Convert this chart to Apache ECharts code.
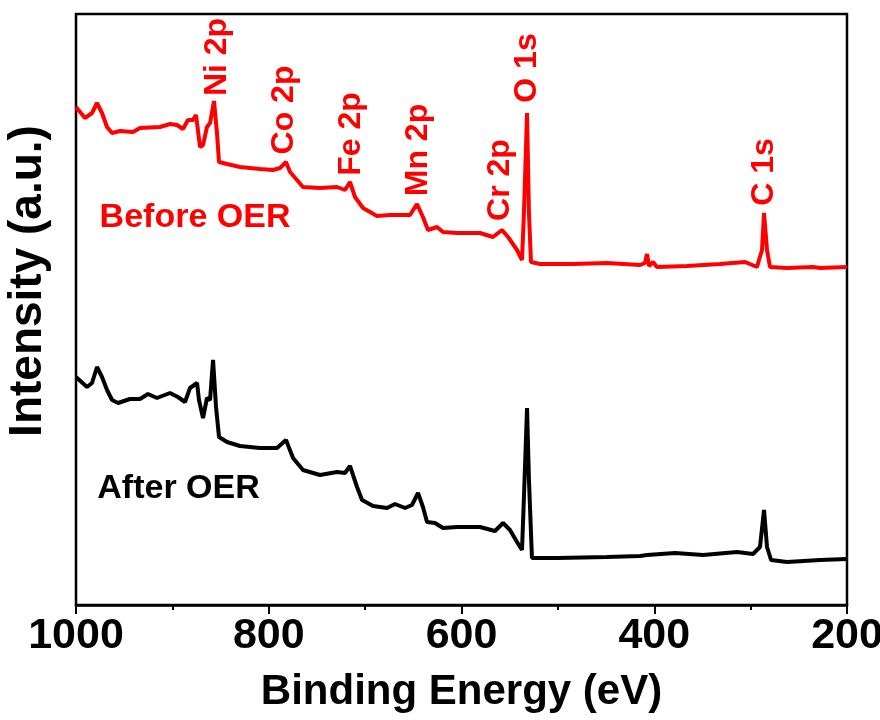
<!DOCTYPE html>
<html>
<head>
<meta charset="utf-8">
<title>XPS survey</title>
<script src="https://cdn.jsdelivr.net/npm/echarts@6/dist/echarts.min.js"></script>
<style>
    html, body { margin: 0; padding: 0; background: #fff; }
    #chart { width: 880px; height: 720px; }
</style>
</head>
<body>
<div id="chart"></div>
<script>
// binding energy (eV) / intensity (a.u.)
const energyBefore = [1000, 990.7, 983.4, 978.2, 973.0, 967.8, 962.6, 954.3, 940.9, 933.6, 912.8, 902.5, 895.2, 889.0,
    883.8, 878.6, 875.5, 871.3, 868.2, 864.1, 860.9, 856.8, 853.7, 851.6, 843.3, 829.8, 809.1, 795.6, 788.3, 782.1,
    777.9, 770.7, 764.5, 746.8, 729.2, 720.9, 715.7, 710.5, 702.2, 687.7, 674.2, 653.4, 646.2, 640.0, 634.8, 625.4,
    619.2, 604.7, 580.8, 567.3, 558.0, 551.7, 542.4, 537.2, 535.2, 532.0, 530.0, 527.9, 518.6, 484.3, 449.0, 414.8,
    409.6, 407.5, 405.4, 401.3, 397.2, 366.0, 331.8, 305.8, 293.4, 288.2, 286.1, 283.0, 279.9, 262.2, 235.3, 228.0, 200];
const intensityBefore = [498, 487, 492, 502, 492, 478, 472, 474, 473, 477, 478, 481, 480, 476,
    485, 485, 490, 458, 460, 478, 482, 504, 472, 443, 441, 438, 436, 435, 437, 443,
    433, 425, 418, 417, 418, 415, 423, 408, 397, 389, 390, 390, 401, 388, 375, 378,
    373, 372, 372, 368, 375, 368, 355, 345, 392, 492, 392, 343, 341, 341, 342, 340,
    342, 351, 339, 343, 338, 339, 341, 343, 338, 355, 392, 355, 338, 337, 338, 337, 338];

const energyAfter = [1000, 988.6, 983.4, 978.2, 973.0, 967.8, 962.6, 956.4, 944.0, 933.6, 925.3, 916.0, 902.5, 894.2,
    886.9, 881.7, 874.4, 872.4, 868.2, 864.1, 860.9, 857.8, 854.7, 851.6, 843.3, 829.8, 809.1, 791.4, 782.1, 774.8,
    764.5, 746.8, 729.2, 720.9, 715.7, 708.4, 703.2, 691.8, 677.3, 669.0, 658.6, 651.4, 645.1, 640.0, 635.8, 627.5,
    619.2, 604.7, 580.8, 565.3, 556.9, 549.7, 542.4, 537.2, 535.2, 532.0, 530.0, 526.9, 500.9, 449.0, 414.8, 407.5,
    378.5, 349.4, 314.1, 297.5, 290.3, 286.1, 283.0, 278.8, 262.2, 228.0, 200];
const intensityAfter = [228, 218, 222, 238, 228, 215, 205, 202, 206, 206, 211, 207, 212, 208,
    203, 217, 222, 205, 187, 207, 205, 245, 198, 168, 163, 159, 157, 157, 165, 147,
    135, 130, 133, 132, 139, 118, 105, 99, 97, 101, 97, 100, 112, 98, 83, 82,
    77, 78, 78, 74, 82, 75, 63, 55, 108, 197, 125, 47, 47, 48, 49, 50,
    52, 50, 53, 51, 58, 95, 58, 45, 43, 45, 46];

const xTicks = [1000, 800, 600, 400, 200];

// peak labels: text, energy, intensity at label centre
const peakNames = ['Ni 2p', 'Co 2p', 'Fe 2p', 'Mn 2p', 'Cr 2p', 'O 1s', 'C 1s'];
const peakEnergy = [853.7, 784.2, 714.7, 645.1, 560.1, 532.0, 286.1];
const peakLabelY = [548, 495, 471, 455, 425, 537, 433];

const FONT = '"Liberation Sans", Arial, sans-serif';

const zip = (xs, ys) => xs.map((x, i) => [x, ys[i]]);

const peakMarks = peakNames.map((n, i) => ({
    name: n,
    coord: [peakEnergy[i], peakLabelY[i]],
    label: { rotate: 90 }
}));

const textMark = (text, be, y) => ({ name: text, coord: [be, y] });

const markLabel = (color, size) => ({
    show: true,
    position: 'inside',
    formatter: '{b}',
    color: color,
    fontFamily: FONT,
    fontWeight: 'bold',
    fontSize: size,
    align: 'center',
    verticalAlign: 'middle'
});

const chart = echarts.init(document.getElementById('chart'), null, { renderer: 'canvas' });

chart.setOption({
    animation: false,
    backgroundColor: '#fff',
    grid: {
        left: 76, right: 33, top: 14, bottom: 115,
        outerBoundsMode: 'none',
        containLabel: false,
        show: true, borderColor: '#000', borderWidth: 2.5, backgroundColor: 'transparent'
    },
    xAxis: {
        type: 'value',
        min: 200,
        max: 1000,
        interval: 200,
        inverse: true,
        name: 'Binding Energy (eV)',
        nameLocation: 'middle',
        nameGap: 66,
        nameTextStyle: { fontFamily: FONT, fontWeight: 'bold', fontSize: 42, color: '#000' },
        axisLine: { show: true, lineStyle: { color: '#000', width: 2.5 } },
        axisTick: { show: true, inside: false, length: 9, lineStyle: { color: '#000', width: 2 } },
        minorTick: { show: true, splitNumber: 2, length: 5, lineStyle: { color: '#000', width: 2 } },
        splitLine: { show: false },
        axisLabel: {
            margin: 10,
            fontFamily: FONT, fontWeight: 'bold', fontSize: 43, color: '#000',
            formatter: v => xTicks.indexOf(v) >= 0 ? String(v) : ''
        }
    },
    yAxis: {
        type: 'value',
        min: 0,
        max: 591,
        axisLine: { show: false },
        axisTick: { show: false },
        axisLabel: { show: false },
        splitLine: { show: false }
    },
    series: [
        {
            name: 'Before OER',
            type: 'line',
            data: zip(energyBefore, intensityBefore),
            showSymbol: false,
            lineStyle: { color: '#ff0000', width: 4 },
            itemStyle: { color: '#ff0000' },
            markPoint: {
                symbol: 'circle',
                symbolSize: 0,
                label: markLabel('#ff0000', 32),
                data: peakMarks.concat([
                    Object.assign(textMark('Before OER', 876.5, 387), { label: { fontSize: 34 } })
                ])
            }
        },
        {
            name: 'After OER',
            type: 'line',
            data: zip(energyAfter, intensityAfter),
            showSymbol: false,
            lineStyle: { color: '#000', width: 4 },
            itemStyle: { color: '#000' },
            markPoint: {
                symbol: 'circle',
                symbolSize: 0,
                label: markLabel('#000', 34),
                data: [textMark('After OER', 893.6, 116.5)]
            }
        }
    ],
    // y axis title
    graphic: [{
        type: 'text',
        x: 28,
        y: 281,
        rotation: Math.PI / 2,
        style: {
            text: 'Intensity (a.u.)',
            fill: '#000',
            font: 'bold 46px ' + FONT,
            align: 'center',
            verticalAlign: 'middle'
        }
    }]
});
</script>
</body>
</html>
